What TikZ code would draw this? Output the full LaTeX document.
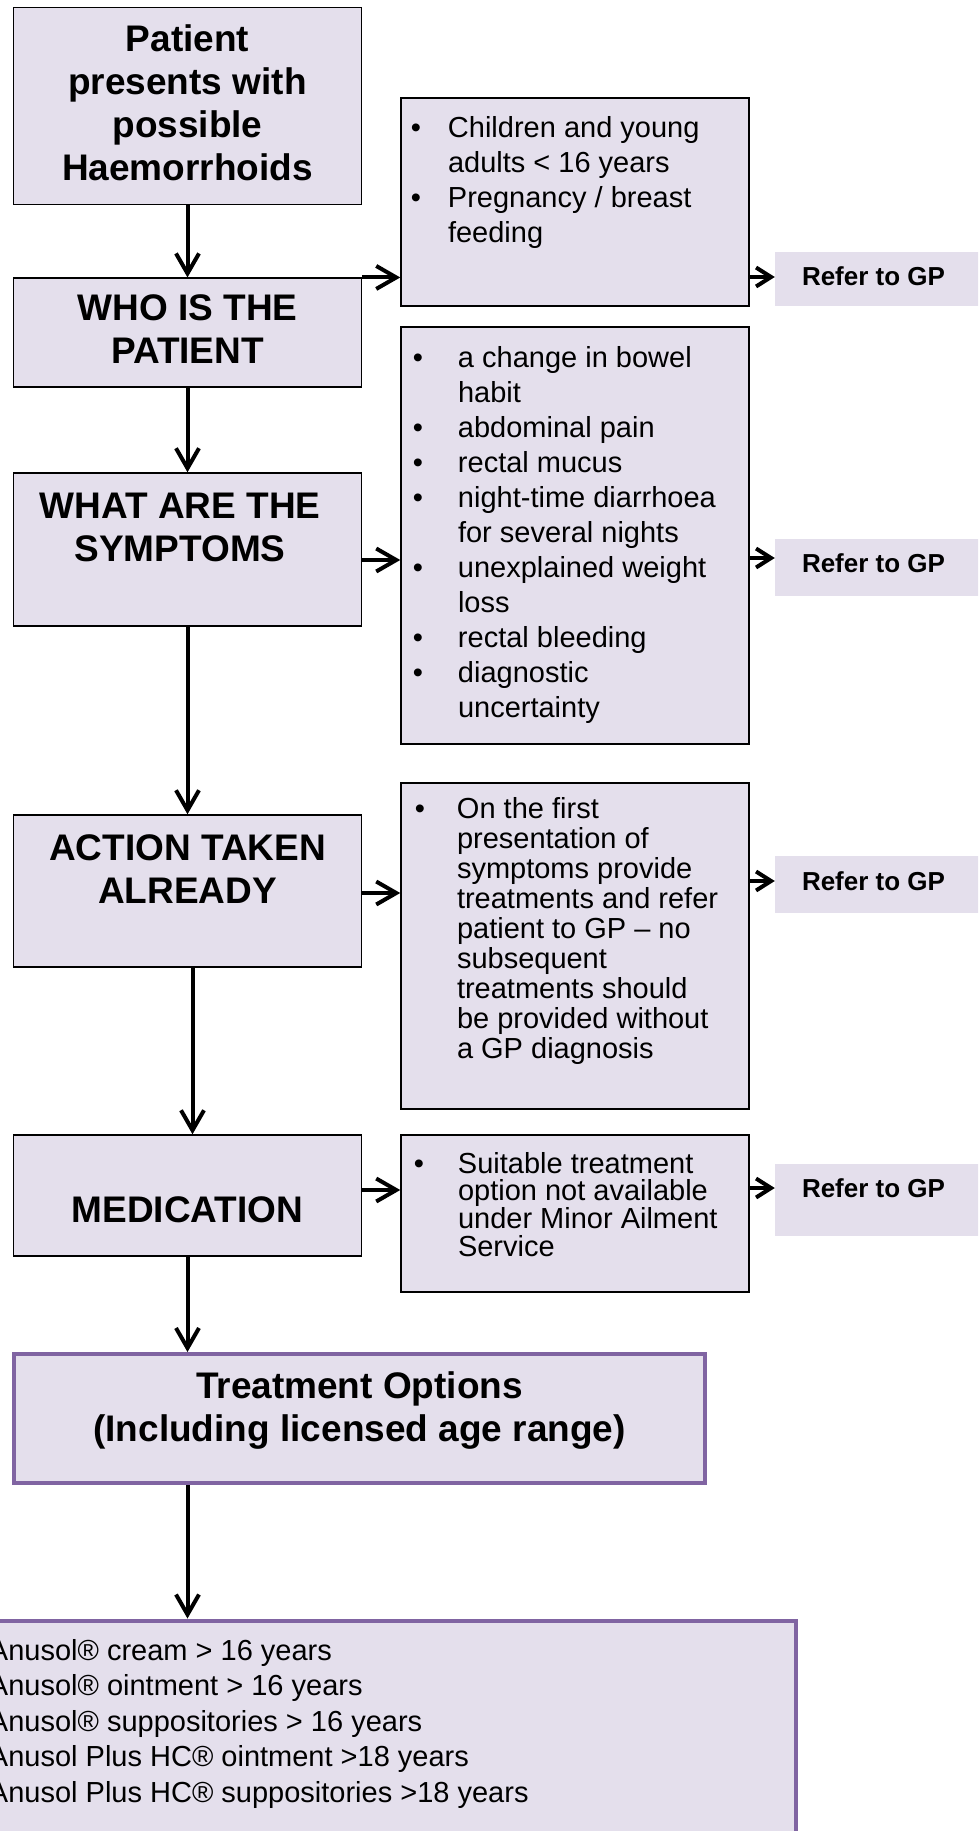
\documentclass[tikz,border=0pt]{standalone}
\usepackage{fontspec}
\setmainfont{Liberation Sans}
\usetikzlibrary{arrows.meta}
\definecolor{lav}{HTML}{E4DFEC}
\definecolor{purp}{HTML}{8064A2}
\newlength{\bulx}\newlength{\txtx}
\newcommand{\bitem}[1]{\hspace*{\bulx}\makebox[0pt]{\textbullet}\hspace*{\dimexpr\txtx-\bulx\relax}#1}
\newcommand{\bcont}[1]{\hspace*{\txtx}#1}
% height, width, gap above first line, text
\newcommand{\headtext}[4]{\parbox[c][#1][t]{#2}{\centering\lineskiplimit=-100pt\vspace*{#3}\rule{0pt}{30pt}#4}}
\newcommand{\listtext}[4]{\parbox[c][#1][t]{#2}{\raggedright\lineskiplimit=-100pt\vspace*{#3}\rule{0pt}{30pt}#4}}
\begin{document}
\begin{tikzpicture}[x=1pt, y=-1pt,
  hbox/.style={draw=black, line width=1.5pt, fill=lav, inner sep=0pt, font=\fontsize{37}{43}\selectfont\bfseries},
  lbox/.style={draw=black, line width=1.5pt, fill=lav, inner sep=0pt, font=\fontsize{29}{35}\selectfont},
  rbox/.style={fill=lav, inner sep=0pt, font=\fontsize{26}{31}\selectfont\bfseries},
  pbox/.style={draw=purp, line width=4pt, fill=lav, inner sep=0pt},
  arr/.style={line width=4pt, -{Straight Barb[length=20pt,width=23pt]}},
  rarr/.style={line width=4pt, -{Straight Barb[length=15pt,width=19pt]}}]
\useasboundingbox (0,0) rectangle (978,1831);
\clip (0,0) rectangle (978,1831);

% left column
\node[hbox] (start) at (187.5,106) {\headtext{197pt}{348pt}{14pt}{Patient\\presents with\\possible\\Haemorrhoids}};
\node[hbox] (who) at (187.5,332.7) {\headtext{109pt}{348pt}{12pt}{WHO IS THE\\PATIENT}};
\node[hbox] (what) at (187.5,549.5) {\headtext{153pt}{348pt}{15pt}{\hspace*{-15pt}WHAT ARE THE\\\hspace*{-15pt}SYMPTOMS}};
\node[hbox] (action) at (187.5,891) {\headtext{152pt}{348pt}{15pt}{ACTION TAKEN\\ALREADY}};
\node[hbox] (med) at (187.5,1195.5) {\headtext{121pt}{348pt}{57pt}{MEDICATION}};

% criteria
\node[lbox] (c1) at (575,202) {\setlength\bulx{15pt}\setlength\txtx{47pt}%
  \listtext{208pt}{348pt}{9pt}{\bitem{Children and young}\\\bcont{adults < 16 years}\\
  \bitem{Pregnancy / breast}\\\bcont{feeding}}};
\node[lbox] (c2) at (575,535.5) {\setlength\bulx{17pt}\setlength\txtx{57pt}%
  \listtext{417pt}{348pt}{10pt}{\bitem{a change in bowel}\\\bcont{habit}\\
  \bitem{abdominal pain}\\\bitem{rectal mucus}\\
  \bitem{night-time diarrhoea}\\\bcont{for several nights}\\
  \bitem{unexplained weight}\\\bcont{loss}\\
  \bitem{rectal bleeding}\\\bitem{diagnostic}\\\bcont{uncertainty}}};
\node[lbox, font=\fontsize{29}{30}\selectfont] (c3) at (575,946) {\setlength\bulx{19pt}\setlength\txtx{56pt}%
  \listtext{326pt}{348pt}{5.5pt}{\bitem{On the first}\\\bcont{presentation of}\\
  \bcont{symptoms provide}\\\bcont{treatments and refer}\\\bcont{patient to GP – no}\\
  \bcont{subsequent}\\\bcont{treatments should}\\\bcont{be provided without}\\
  \bcont{a GP diagnosis}}};
\node[lbox, font=\fontsize{29}{27.7}\selectfont] (c4) at (575,1213.5) {\setlength\bulx{18pt}\setlength\txtx{57pt}%
  \listtext{157pt}{348pt}{8pt}{\bitem{Suitable treatment}\\\bcont{option not available}\\
  \bcont{under Minor Ailment}\\\bcont{Service}}};

% refer boxes
\node[rbox] (r1) at (882.5,279) {\listtext{54pt}{215pt}{3pt}{\hspace*{27pt}Refer to GP}};
\node[rbox] (r2) at (882.5,567.5) {\listtext{57pt}{215pt}{3pt}{\hspace*{27pt}Refer to GP}};
\node[rbox] (r3) at (882.5,884.5) {\listtext{57pt}{215pt}{4pt}{\hspace*{27pt}Refer to GP}};
\node[rbox] (r4) at (882.5,1200) {\listtext{72pt}{215pt}{3pt}{\hspace*{27pt}Refer to GP}};

% treatment
\node[pbox, font=\fontsize{37}{43}\selectfont\bfseries] (treat) at (359.5,1418.5) {\headtext{129pt}{691pt}{14pt}{Treatment Options\\(Including licensed age range)}};
\node[pbox, font=\fontsize{29}{35.5}\selectfont] (final) at (382.75,1750.25) {\setlength\txtx{19pt}%
  \listtext{259.5pt}{825.5pt}{9.5pt}{\bcont{Anusol® cream > 16 years}\\\bcont{Anusol® ointment > 16 years}\\
  \bcont{Anusol® suppositories > 16 years}\\\bcont{Anusol Plus HC® ointment >18 years}\\
  \bcont{Anusol Plus HC® suppositories >18 years}}};

% arrows
\coordinate (whatout) at ([yshift=-10.5pt]what.east);
\coordinate (actout) at ([yshift=-2pt]action.east);
\coordinate (medout) at ([yshift=5.5pt]med.east);
\coordinate (r1in) at ([yshift=2pt]r1.west);
\coordinate (r2in) at ([yshift=9.5pt]r2.west);
\coordinate (r3in) at ([yshift=3.5pt]r3.west);
\coordinate (r4in) at ([yshift=12pt]r4.west);
\draw[arr] (start) -- (who);
\draw[arr] (who.north east) -- (who.north east -| c1.west);
\draw[arr] (who) -- (what);
\draw[arr] (whatout) -- (whatout -| c2.west);
\draw[arr] (what) -- (action);
\draw[arr] (actout) -- (actout -| c3.west);
\draw[arr] ([xshift=5pt]action.south) -- ([xshift=5pt]med.north);
\draw[arr] (medout) -- (medout -| c4.west);
\draw[arr] (med.south) -- (med.south |- treat.north);
\draw[arr] (med.south |- treat.south) -- (med.south |- final.north);
\draw[rarr] (r1in -| c1.east) -- (r1in);
\draw[rarr] (r2in -| c2.east) -- (r2in);
\draw[rarr] (r3in -| c3.east) -- (r3in);
\draw[rarr] (r4in -| c4.east) -- (r4in);
\end{tikzpicture}
\end{document}
